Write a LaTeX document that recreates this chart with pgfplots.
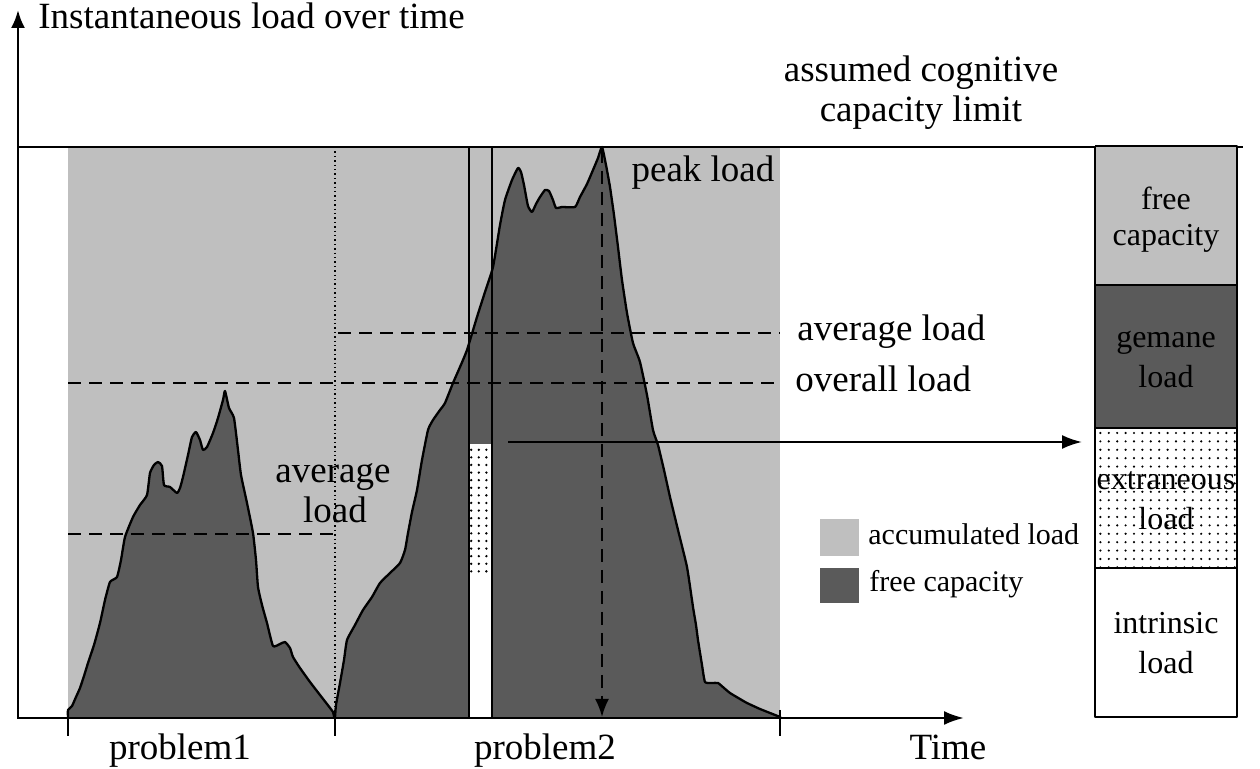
\documentclass[border=0pt]{standalone}
\usepackage{pgfplots}
\pgfplotsset{compat=1.18}
\usepackage{fontspec}
\setmainfont{Liberation Serif}
\usetikzlibrary{arrows.meta,patterns.meta}
\definecolor{lightg}{HTML}{BFBFBF}
\definecolor{darkg}{HTML}{5A5A5A}
\tikzset{lbl/.style={font=\fontsize{18.5}{20}\selectfont, inner sep=0pt},
         sml/.style={font=\fontsize{16}{18}\selectfont, inner sep=0pt},
         leg/.style={font=\fontsize{15}{17}\selectfont, inner sep=0pt}}
\begin{document}
\begin{tikzpicture}
\begin{axis}[
  scale only axis, width=630pt, height=384.5pt,
  xmin=0, xmax=1260, ymin=0, ymax=769, y dir=reverse,
  hide axis, clip=false,
  every axis plot/.append style={line join=round},
]
\path (rel axis cs:0,0) rectangle (rel axis cs:1,1);
% accumulated (light) region
\addplot[fill=lightg, draw=none] coordinates {(68,147)(780,147)(780,718)(68,718)};
% problem 1 load curve
\addplot[fill=darkg, draw=black, line width=1.15pt, smooth, tension=0.3] coordinates {
(68,718)(68,710)(72,706)(76,697)(80,688)(84,676)(88,663)(94,645)(100,623)(105,600)(110,582)(117,577)(121,560)(125,537)(133,517)(140,505)(147,495)(150,473)(154,465)(158,462)(162,466)(164,485)(170,487)(177,493)(180,488)(183,477)(188,455)(192,437)(196,432)(200,440)(203,450)(207,447)(213,433)(218,418)(223,400)(225,391)(229,408)(234,418)(238,450)(241,475)(247,503)(253,533)(256,560)(258,587)(262,605)(267,623)(273,646)(280,644)(285,642)(290,648)(293,657)(300,668)(310,682)(320,695)(333,712)(334,718)};
% problem 2 load curve
\addplot[fill=darkg, draw=black, line width=1.15pt, smooth, tension=0.3] coordinates {
(335,718)(336,705)(340,683)(344,660)(347,640)(355,625)(363,610)(372,597)(380,583)(390,573)(400,563)(405,550)(408,533)(412,512)(417,490)(422,460)(428,430)(433,420)(440,410)(445,403)(453,383)(460,367)(467,350)(477,317)(485,292)(493,267)(500,225)(505,200)(512,180)(518,168)(521,172)(524,185)(528,206)(532,212)(536,204)(540,197)(545,190)(549,191)(553,200)(556,208)(562,207)(575,207)(580,197)(587,184)(593,170)(598,158)(602,147)(606,165)(610,187)(614,215)(618,247)(622,280)(627,313)(633,343)(640,362)(647,395)(653,430)(658,445)(664,470)(670,497)(678,530)(687,567)(693,607)(696,625)(698,640)(702,665)(705,682)(712,683)(718,683)(724,688)(730,693)(740,699)(747,703)(760,709)(780,717)(780,718)};
% strip: extraneous + intrinsic
\addplot[fill=white, draw=none] coordinates {(469,444)(492,444)(492,718)(469,718)};
\addplot[pattern={Dots[distance=3.8pt,radius=0.65pt]}, draw=none] coordinates {(469,446)(492,446)(492,577)(469,577)};
\addplot[black, line width=1.1pt] coordinates {(469,147)(469,718)};
\addplot[black, line width=1.1pt] coordinates {(492,147)(492,718)};
% dotted separator
\addplot[black, line width=0.9pt, dash pattern=on 0.7pt off 1.5pt] coordinates {(335,147)(335,718)};
% dashed load levels
\addplot[black, line width=1.1pt, dash pattern=on 6.5pt off 4pt] coordinates {(68,534)(335,534)};
\addplot[black, line width=1.1pt, dash pattern=on 6.5pt off 4pt] coordinates {(68,383)(780,383)};
\addplot[black, line width=1.1pt, dash pattern=on 6.5pt off 4pt] coordinates {(338,333)(780,333)};
% peak arrow
\addplot[black, line width=1.1pt, dash pattern=on 6.5pt off 4pt, -{Latex[length=9pt,width=7pt]}] coordinates {(602,150)(602,717)};
% arrow to bar
\addplot[black, line width=1.1pt, -{Latex[length=10pt,width=7pt]}] coordinates {(508,442)(1082,442)};
% axes
\addplot[black, line width=1.3pt, -{Latex[length=9pt,width=7pt]}] coordinates {(18,719)(18,10)};
\addplot[black, line width=1.3pt, -{Latex[length=10pt,width=7pt]}] coordinates {(17,718)(964,718)};
\addplot[black, line width=1.2pt] coordinates {(18,147)(1243,147)};
\addplot[black, line width=1pt] coordinates {(68,718)(68,736)};
\addplot[black, line width=1pt] coordinates {(335,718)(335,736)};
\addplot[black, line width=1pt] coordinates {(780,710)(780,736)};
% capacity bar
\addplot[fill=lightg, draw=black, line width=1.1pt] coordinates {(1095,146)(1237,146)(1237,285)(1095,285)(1095,146)};
\addplot[fill=darkg, draw=black, line width=1.1pt] coordinates {(1095,285)(1237,285)(1237,428)(1095,428)(1095,285)};
\addplot[fill=white, draw=none] coordinates {(1095,428)(1237,428)(1237,568)(1095,568)};
\addplot[pattern={Dots[distance=4.2pt,radius=0.6pt]}, draw=none] coordinates {(1095,428)(1237,428)(1237,568)(1095,568)};
\addplot[draw=black, line width=1.1pt] coordinates {(1095,428)(1237,428)(1237,568)(1095,568)(1095,428)};
\addplot[fill=white, draw=black, line width=1.1pt] coordinates {(1095,568)(1237,568)(1237,717)(1095,717)(1095,568)};
% legend swatches
\addplot[fill=lightg, draw=none] coordinates {(820,519)(859,519)(859,556)(820,556)};
\addplot[fill=darkg, draw=none] coordinates {(820,568)(859,568)(859,603)(820,603)};
% texts
\node[lbl, anchor=base west] at (axis cs:38,29) {Instantaneous load over time};
\node[lbl, anchor=base] at (axis cs:921,82) {assumed cognitive};
\node[lbl, anchor=base] at (axis cs:921,122) {capacity limit};
\node[lbl, anchor=base] at (axis cs:703,182) {peak load};
\node[lbl, anchor=base west] at (axis cs:797,341) {average load};
\node[lbl, anchor=base west] at (axis cs:795,392) {overall load};
\node[lbl, anchor=base] at (axis cs:333,483) {average};
\node[lbl, anchor=base] at (axis cs:335,523) {load};
\node[leg, anchor=base west] at (axis cs:868,545) {accumulated load};
\node[leg, anchor=base west] at (axis cs:869,592) {free capacity};
\node[lbl, anchor=base] at (axis cs:180,760) {problem1};
\node[lbl, anchor=base] at (axis cs:545,760) {problem2};
\node[lbl, anchor=base] at (axis cs:948,760) {Time};
\node[sml, anchor=base] at (axis cs:1166,210) {free};
\node[sml, anchor=base] at (axis cs:1166,246) {capacity};
\node[sml, anchor=base] at (axis cs:1166,348) {gemane};
\node[sml, anchor=base] at (axis cs:1166,388) {load};
\node[sml, anchor=base] at (axis cs:1166,490) {extraneous};
\node[sml, anchor=base] at (axis cs:1166,530) {load};
\node[sml, anchor=base] at (axis cs:1166,634) {intrinsic};
\node[sml, anchor=base] at (axis cs:1166,674) {load};
\end{axis}
\end{tikzpicture}
\end{document}
